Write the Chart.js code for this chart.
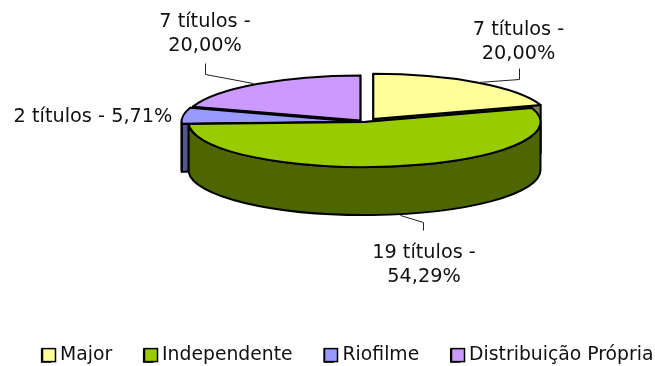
<!DOCTYPE html>
<html>
<head>
<meta charset="utf-8">
<style>
  html, body { margin: 0; padding: 0; background: #fff; }
  canvas { display: block; }
</style>
<script src="https://cdn.jsdelivr.net/npm/chart.js@4/dist/chart.umd.min.js"></script>
</head>
<body>
<canvas id="pie-chart" width="655" height="366"></canvas>
<script>
var categories = ["Major", "Independente", "Riofilme", "Distribuição Própria"];
var titulos = [7, 19, 2, 7];
var topColors = ["#FFFF99", "#99CC00", "#9999FF", "#CC99FF"];
var wallColors = ["#80804D", "#4D6600", "#555590", "#664D80"];

// how far each slice is pulled out of the pie, px
var explode = [15, 0, 7, 7];
// back to front
var drawOrder = [3, 0, 2, 1];

var pie = { x: 364.5, y: 122, radius: 176, squash: 0.256, depth: 48 };
var labelFont = "19.3px 'DejaVu Sans'";
var lineGap = 24;

// anchor of each text block and the leader line that goes with it
var labelSpots = [
  { x: 518.5, y: 30, lines: 2, leader: [[519, 68], [519, 79], [478, 82]] },
  { x: 424, y: 253, lines: 2, leader: [[400, 215], [423, 222], [423, 230]] },
  { x: 93, y: 116.5, lines: 1, leader: null },
  { x: 205, y: 22, lines: 2, leader: [[205, 63], [205, 74], [253, 83]] }
];

function percentText(i) {
  var total = titulos.reduce(function (a, b) { return a + b; }, 0);
  return (titulos[i] / total * 100).toFixed(2).replace(".", ",") + "%";
}

function slicePath(ctx, arc, cx, cy) {
  ctx.beginPath();
  ctx.moveTo(cx, cy);
  ctx.ellipse(cx, cy, arc.outerRadius, arc.outerRadius * pie.squash, 0, arc.startAngle, arc.endAngle);
  ctx.closePath();
}

// flat cut side of a slice, going down from the radius at this angle
function cutWall(ctx, arc, cx, cy, angle) {
  var ex = cx + Math.cos(angle) * arc.outerRadius;
  var ey = cy + Math.sin(angle) * arc.outerRadius * pie.squash;
  ctx.beginPath();
  ctx.moveTo(cx, cy);
  ctx.lineTo(ex, ey);
  ctx.lineTo(ex, ey + pie.depth);
  ctx.lineTo(cx, cy + pie.depth);
  ctx.closePath();
  ctx.fill();
  ctx.stroke();
}

// curved outer side, only the part that faces the viewer
function rimWall(ctx, arc, cx, cy) {
  var a0 = Math.max(arc.startAngle, 0);
  var a1 = Math.min(arc.endAngle, Math.PI);
  if (a1 <= a0) return;
  var rx = arc.outerRadius;
  var ry = rx * pie.squash;
  ctx.beginPath();
  ctx.ellipse(cx, cy, rx, ry, 0, a0, a1);
  ctx.ellipse(cx, cy + pie.depth, rx, ry, 0, a1, a0, true);
  ctx.closePath();
  ctx.fill();
  ctx.stroke();
}

var pie3d = {
  id: "pie3d",
  beforeDatasetsDraw: function (chart) {
    var ctx = chart.ctx;
    var arcs = chart.getDatasetMeta(0).data;
    ctx.save();
    ctx.lineJoin = "round";
    ctx.lineWidth = 2;
    ctx.strokeStyle = "#000";

    drawOrder.forEach(function (i) {
      var arc = arcs[i];
      var mid = (arc.startAngle + arc.endAngle) / 2;
      var cx = pie.x + Math.cos(mid) * explode[i];
      var cy = pie.y + Math.sin(mid) * explode[i] * pie.squash;
      ctx.fillStyle = wallColors[i];
      cutWall(ctx, arc, cx, cy, arc.startAngle);
      cutWall(ctx, arc, cx, cy, arc.endAngle);
      rimWall(ctx, arc, cx, cy);
      slicePath(ctx, arc, cx, cy);
      ctx.fillStyle = topColors[i];
      ctx.fill();
      ctx.stroke();
    });

    // data labels
    ctx.lineWidth = 1;
    ctx.strokeStyle = "#222";
    ctx.fillStyle = "#111";
    ctx.font = labelFont;
    ctx.textAlign = "center";
    ctx.textBaseline = "middle";
    labelSpots.forEach(function (spot, i) {
      var first = titulos[i] + " títulos -";
      if (spot.lines === 2) {
        ctx.fillText(first, spot.x, spot.y);
        ctx.fillText(percentText(i), spot.x, spot.y + lineGap);
      } else {
        ctx.fillText(first + " " + percentText(i), spot.x, spot.y);
      }
      if (spot.leader) {
        ctx.beginPath();
        spot.leader.forEach(function (p, k) {
          if (k === 0) ctx.moveTo(p[0] + 0.5, p[1] + 0.5);
          else ctx.lineTo(p[0] + 0.5, p[1] + 0.5);
        });
        ctx.stroke();
      }
    });
    ctx.restore();
    return false;
  },
  // legend boxes sit closer to their text than Chart.js spaces them, so widen them here
  afterDraw: function (chart) {
    var ctx = chart.ctx;
    var legend = chart.legend;
    ctx.save();
    ctx.lineWidth = 1.5;
    ctx.strokeStyle = "#000";
    legend.legendHitBoxes.forEach(function (box, i) {
      var top = box.top + (box.height - 13) / 2 - 0.5;
      var left = Math.round(box.left) + 0.5;
      ctx.fillStyle = topColors[i];
      ctx.fillRect(left, top, 13, 13);
      ctx.strokeRect(left, top, 13, 13);
    });
    ctx.restore();
  }
};

new Chart(document.getElementById("pie-chart"), {
  type: "pie",
  plugins: [pie3d],
  data: {
    labels: categories,
    datasets: [{
      data: titulos,
      backgroundColor: topColors,
      borderColor: "#000",
      borderWidth: 1.5,
      radius: pie.radius
    }]
  },
  options: {
    responsive: false,
    animation: false,
    // the legend row needs a bit more room than the canvas gives before it wraps
    layout: { padding: { left: 10, right: -30, bottom: -9 } },
    plugins: {
      tooltip: { enabled: false },
      legend: {
        position: "bottom",
        labels: {
          boxWidth: 9,
          boxHeight: 13,
          padding: 31.5,
          color: "#111",
          font: { family: "'DejaVu Sans'", size: 18.8 }
        }
      }
    }
  }
});
</script>
</body>
</html>
